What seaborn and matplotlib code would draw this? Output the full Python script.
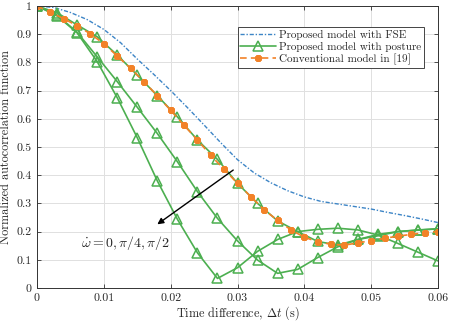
import numpy as np
import pandas as pd
import matplotlib
matplotlib.use("Agg")
import matplotlib.pyplot as plt
import seaborn as sns

# ---- data ----
x_fse = [0, 0.0025, 0.005, 0.0075, 0.01, 0.0125, 0.015, 0.0175, 0.02, 0.0225, 0.025,
         0.0275, 0.03, 0.0325, 0.035, 0.0375, 0.04, 0.0425, 0.045, 0.0475, 0.05,
         0.0525, 0.055, 0.0575, 0.06]
y_fse = [1.0, 0.995, 0.977, 0.952, 0.917, 0.870, 0.812, 0.757, 0.700, 0.640, 0.578,
         0.515, 0.455, 0.408, 0.373, 0.345, 0.323, 0.307, 0.298, 0.289, 0.280,
         0.268, 0.257, 0.245, 0.232]

x_post = [0, 0.003, 0.006, 0.009, 0.012, 0.015, 0.018, 0.021, 0.024, 0.027, 0.03,
          0.033, 0.036, 0.039, 0.042, 0.045, 0.048, 0.051, 0.054, 0.057, 0.06]
y_post_0 = [1.0, 0.976, 0.933, 0.891, 0.826, 0.755, 0.682, 0.607, 0.525, 0.456, 0.371,
            0.300, 0.238, 0.200, 0.165, 0.152, 0.172, 0.190, 0.200, 0.205, 0.210]
y_post_q = [1.0, 0.968, 0.907, 0.820, 0.732, 0.641, 0.548, 0.448, 0.342, 0.247, 0.167,
            0.099, 0.052, 0.066, 0.108, 0.146, 0.172, 0.185, 0.200, 0.206, 0.210]
y_post_h = [1.0, 0.965, 0.905, 0.803, 0.675, 0.533, 0.380, 0.244, 0.125, 0.034, 0.072,
            0.130, 0.172, 0.200, 0.208, 0.212, 0.206, 0.188, 0.158, 0.127, 0.096]

x_conv = [0, 0.002, 0.004, 0.006, 0.008, 0.01, 0.012, 0.014, 0.016, 0.018, 0.02,
          0.022, 0.024, 0.026, 0.028, 0.03, 0.032, 0.034, 0.036, 0.038, 0.04,
          0.042, 0.044, 0.046, 0.048, 0.05, 0.052, 0.054, 0.056, 0.058, 0.06]
y_conv = [1.0, 0.978, 0.955, 0.930, 0.901, 0.866, 0.823, 0.779, 0.732, 0.682, 0.630,
          0.577, 0.525, 0.470, 0.421, 0.371, 0.324, 0.277, 0.240, 0.206, 0.180,
          0.164, 0.155, 0.152, 0.160, 0.168, 0.176, 0.184, 0.190, 0.196, 0.200]

labels = ["Proposed model with FSE", "Proposed model with posture", "Conventional model in [19]"]
xticks = [0, 0.01, 0.02, 0.03, 0.04, 0.05, 0.06]
xticklabels = ["0", "0.01", "0.02", "0.03", "0.04", "0.05", "0.06"]
yticks = [0, 0.1, 0.2, 0.3, 0.4, 0.5, 0.6, 0.7, 0.8, 0.9, 1.0]
yticklabels = ["0", "0.1", "0.2", "0.3", "0.4", "0.5", "0.6", "0.7", "0.8", "0.9", "1"]

# ---- style ----
sns.set_style("whitegrid")
plt.rcParams["font.family"] = ["cmr10", "DejaVu Serif"]
plt.rcParams["mathtext.fontset"] = "cm"
plt.rcParams["axes.formatter.use_mathtext"] = True

blue = "#3d85c6"
green = "#4caf50"
orange = "#f28228"

fig, ax = plt.subplots(figsize=(4.5, 3.22), dpi=100)
fig.subplots_adjust(left=37/450, right=438/450, bottom=34/322, top=316/322)

sns.lineplot(x=x_fse, y=y_fse, ax=ax, color=blue, linestyle=(0, (3, 1.3, 1, 1.3)),
             linewidth=1.0, label=labels[0])
for i, yy in enumerate([y_post_0, y_post_q, y_post_h]):
    sns.lineplot(x=x_post, y=yy, ax=ax, color=green, linewidth=1.2, marker="^",
                 markersize=6.5, markerfacecolor="none", markeredgecolor=green,
                 markeredgewidth=1.1, label=labels[1] if i == 0 else None)
sns.lineplot(x=x_conv, y=y_conv, ax=ax, color=orange, linestyle=(0, (4, 2.5)),
             linewidth=1.2, marker=(8, 2, 0), markersize=5, markeredgewidth=1.8,
             markeredgecolor=orange, label=labels[2])

ax.set_xlim(0, 0.06)
ax.set_ylim(0, 1)
ax.set_xticks(xticks)
ax.set_xticklabels(xticklabels)
ax.set_yticks(yticks)
ax.set_yticklabels(yticklabels)
ax.tick_params(direction="in", length=3, labelsize=8.5, top=True, right=True,
               left=True, bottom=True, color="#333333", width=0.6, pad=4)
ax.grid(True, color="#e0e0e0", linewidth=0.7)
for s in ax.spines.values():
    s.set_color("#333333")
    s.set_linewidth(0.7)

ax.set_xlabel(r"Time difference, $\Delta t$ (s)", fontsize=8.8, labelpad=1)
ax.set_ylabel("Normalized autocorrelation function", fontsize=8.8, labelpad=3)

ax.annotate("", xy=(0.01766, 0.22), xytext=(0.0297, 0.424),
            arrowprops=dict(arrowstyle="-|>", color="black", lw=1.0,
                            mutation_scale=9))
ax.text(0.0133, 0.158, r"$\dot{\omega}=0,\pi/4,\pi/2$", fontsize=10,
        ha="center", va="center")

leg = ax.legend(loc="upper left", bbox_to_anchor=(0.50, 0.925), fontsize=8,
                fancybox=False, framealpha=1, edgecolor="#444444",
                borderpad=0.25, labelspacing=0.15, handlelength=3.2,
                handletextpad=0.3, borderaxespad=0)
leg.get_frame().set_linewidth(0.7)

fig.savefig("out.png", dpi=100)
